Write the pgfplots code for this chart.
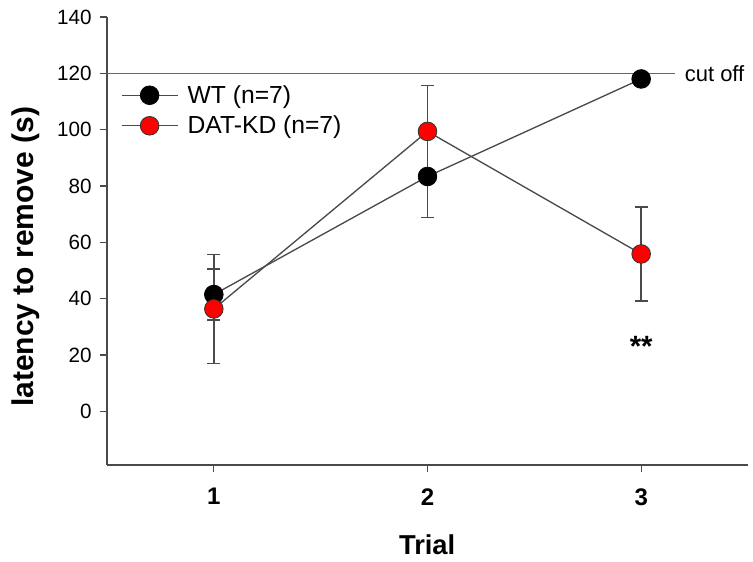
\documentclass[border=0pt]{standalone}
\usepackage{pgfplots}
\pgfplotsset{compat=1.18}
\usepackage{fontspec}
\setmainfont{Liberation Sans}
\definecolor{linegray}{HTML}{4A4A4A}
\definecolor{kdred}{HTML}{FF0000}
\begin{document}
\begin{tikzpicture}
\begin{axis}[
    scale only axis,
    width=480.75pt,
    height=336pt,
    xmin=0.5, xmax=3.5,
    ymin=-19, ymax=140,
    axis x line*=bottom,
    axis y line*=left,
    axis line style={-, linegray, line width=1pt},
    tick style={linegray, line width=1pt},
    tick align=outside,
    major tick length=5pt,
    xtick={1,2,3},
    xticklabels={\textbf{1},\textbf{2},\textbf{3}},
    ytick={0,20,...,140},
    /pgf/number format/assume math mode=true,
    yticklabel style={font=\fontsize{15.5pt}{17pt}\selectfont, xshift=-3pt},
    xticklabel style={font=\fontsize{18pt}{20pt}\selectfont, yshift=-9pt},
    xlabel={\textbf{Trial}},
    ylabel={\textbf{latency to remove (s)}},
    xlabel style={font=\fontsize{20.5pt}{24pt}\selectfont, at={(axis description cs:0.4995,-0.179)}, anchor=center},
    ylabel style={font=\fontsize{22.5pt}{26pt}\selectfont, at={(axis description cs:-0.127,0.465)}, anchor=center},
    clip=false,
    legend style={draw=none, fill=none, at={(axis description cs:0.015,0.86)}, anchor=north west,
        font=\fontsize{18.5pt}{22pt}\selectfont, row sep=4pt,
        legend cell align=left},
    legend image code/.code={\draw[mark repeat=2,mark phase=2] plot coordinates {(0cm,0cm) (0.74cm,0cm) (1.48cm,0cm)};},
]
% canvas
\path (rel axis cs:-0.1669,-0.2143) rectangle (rel axis cs:1.0078,1.0379);
% cut off line
\addplot[forget plot, gray!80!black, line width=1pt] coordinates {(0.5,120) (3.156,120)};
\node[anchor=west, inner sep=0pt, font=\fontsize{16.5pt}{20pt}\selectfont] at (axis cs:3.203,120) {cut off};
% error bars
\addplot[forget plot, only marks, mark=none, error bars/.cd, y dir=both, y explicit,
    error mark options={rotate=90, mark size=5pt, linegray, line width=1.1pt},
    error bar style={linegray, line width=1.1pt}]
coordinates {(1,41.5) +- (0,9) (2,83.4) +- (0,14.5) (3,118) +- (0,0)};
\addplot[forget plot, only marks, mark=none, error bars/.cd, y dir=both, y explicit,
    error mark options={rotate=90, mark size=5pt, linegray, line width=1.1pt},
    error bar style={linegray, line width=1.1pt}]
coordinates {(1,36.4) +- (0,19.4) (2,99.4) +- (0,16.2) (3,55.9) +- (0,16.7)};
% series
\addplot[linegray, line width=1pt, mark=*, mark size=7pt,
    mark options={fill=black, draw=black, line width=0.6pt}]
coordinates {(1,41.5) (2,83.4) (3,118)};
\addplot[linegray, line width=1pt, mark=*, mark size=7pt,
    mark options={fill=kdred, draw=black!80, line width=0.6pt}]
coordinates {(1,36.4) (2,99.4) (3,55.9)};
\legend{\hspace{5pt}WT (n=7), \hspace{5pt}DAT-KD (n=7)}
\node[font=\bfseries\fontsize{22pt}{24pt}\selectfont] at (axis cs:3,23) {**};
\end{axis}
\end{tikzpicture}
\end{document}
